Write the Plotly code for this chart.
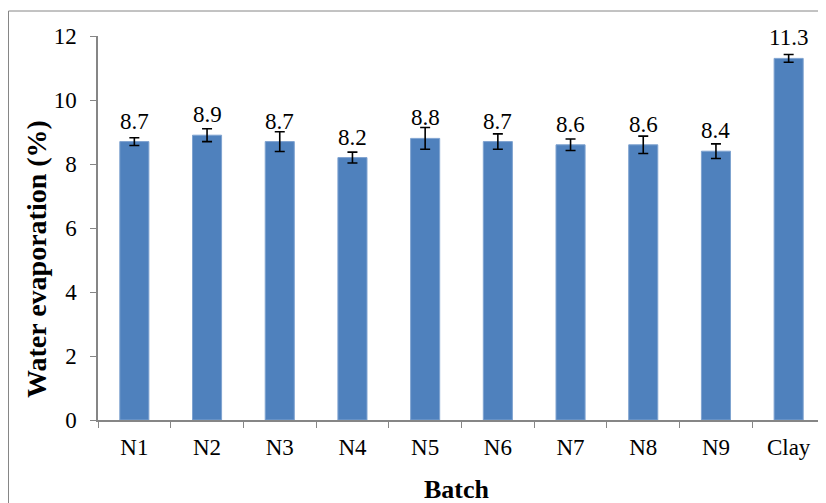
import plotly.graph_objects as go

batches = ["N1", "N2", "N3", "N4", "N5", "N6", "N7", "N8", "N9", "Clay"]
evaporation = [8.7, 8.9, 8.7, 8.2, 8.8, 8.7, 8.6, 8.6, 8.4, 11.3]
errors = [0.12, 0.2, 0.31, 0.17, 0.34, 0.24, 0.18, 0.27, 0.23, 0.12]
y_ticks = [0, 2, 4, 6, 8, 10, 12]

FONT = "Liberation Serif"
GRAY = "#868686"

# the page body adds an 8px margin, so the figure is sized to fill the rest
W, H = 818, 495
ml, mr, mt, mb = 90, 1, 28, 83
pw, ph = W - ml - mr, H - mt - mb

def px_x(x):
    return (x - ml) / pw

def px_y(y):
    return 1 - (y - mt) / ph

fig = go.Figure()
fig.add_trace(go.Bar(
    x=batches, y=evaporation,
    marker=dict(color="#4F81BD", line=dict(color="#7FA3D0", width=1)),
    width=0.4,
    error_y=dict(type="data", array=errors, visible=True,
                 color="black", thickness=1.6, width=5),
    showlegend=False,
))

for b, v in zip(batches, evaporation):
    fig.add_annotation(x=b, y=v, text=f"{v:.1f}", showarrow=False,
                       yanchor="bottom", yshift=6,
                       font=dict(family=FONT, size=23, color="black"))

fig.add_shape(type="rect", xref="paper", yref="paper",
              x0=px_x(0.5), x1=px_x(W + 5),
              y0=px_y(H + 5), y1=px_y(3),
              line=dict(color=GRAY, width=1), layer="below")

# axis titles
fig.add_annotation(xref="paper", yref="paper",
                   x=px_x(449), y=px_y(481),
                   text="<b>Batch</b>", showarrow=False,
                   xanchor="center", yanchor="middle",
                   font=dict(family=FONT, size=26, color="black"))
fig.add_annotation(xref="paper", yref="paper",
                   x=px_x(28), y=px_y(251),
                   text="<b>Water evaporation (%)</b>", showarrow=False,
                   textangle=-90, xanchor="center", yanchor="middle",
                   font=dict(family=FONT, size=28, color="black"))

fig.update_layout(
    width=W, height=H,
    margin=dict(l=ml, r=mr, t=mt, b=mb, autoexpand=False),
    paper_bgcolor="white", plot_bgcolor="white",
    font=dict(family=FONT, size=23, color="black"),
    xaxis=dict(
        automargin=False,
        showline=True, linecolor=GRAY, linewidth=1.5,
        ticks="outside", tickson="boundaries", ticklen=6, tickcolor=GRAY,
        ticklabelstandoff=6,
        tickfont=dict(family=FONT, size=23),
        showgrid=False,
    ),
    yaxis=dict(
        automargin=False,
        range=[0, 12], tickvals=y_ticks, ticktext=[str(t) for t in y_ticks],
        showline=True, linecolor=GRAY, linewidth=1.5,
        ticks="outside", ticklen=6, tickcolor=GRAY,
        ticklabelstandoff=9,
        tickfont=dict(family=FONT, size=23),
        showgrid=False, zeroline=False,
    ),
)

fig.write_html("out.html")
